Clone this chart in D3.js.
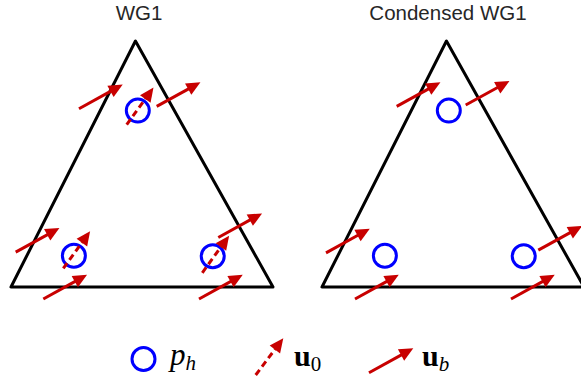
<!DOCTYPE html>
<html>
<head>
<meta charset="utf-8">
<script src="https://cdn.jsdelivr.net/npm/d3@7"></script>
<style>
  html, body { margin: 0; padding: 0; background: #fff; }
  svg { display: block; }
</style>
</head>
<body>
<script>
// ---- Reference element and degrees of freedom (unit-triangle coordinates) ----
const panelTitles = ["WG1", "Condensed WG1"];
const triangleVertices = [[0, 0], [1, 0], [0.475, 1]];

// pressure nodes p_h (same for both elements)
const pressureNodes = [[0.484, 0.717], [0.240, 0.127], [0.770, 0.125]];

// common arrow directions (unit-triangle units)
const boundaryVec = [0.167, 0.098];   // u_b
const interiorVec = [0.1023, 0.1506]; // u_0

// tails of the boundary velocity arrows, WG1
const wg1BoundaryTails = [
  [0.2595, 0.7247], [0.5561, 0.7340],
  [0.0179, 0.1417], [0.7912, 0.2012],
  [0.1233, -0.0486], [0.7176, -0.0486]
];
// tails of the interior velocity arrows, WG1
const wg1InteriorTails = [[0.4416, 0.6599], [0.1996, 0.0757], [0.7302, 0.0579]];

// tails of the boundary velocity arrows, condensed WG1 (no interior DOFs)
const condensedBoundaryTails = [
  [0.2851, 0.7340], [0.5485, 0.7397],
  [0.0153, 0.1389], [0.8256, 0.1498],
  [0.1260, -0.0486], [0.7214, -0.0486]
];
const condensedInteriorTails = [];

const boundaryTails = [wg1BoundaryTails, condensedBoundaryTails];
const interiorTails = [wg1InteriorTails, condensedInteriorTails];

// ---- Drawing ----
const W = 581, H = 383;
const RED = "#c80000", BLUE = "#0000ff";
const svg = d3.select("body").append("svg").attr("width", W).attr("height", H);

const panelRanges = [[11, 273], [322, 584]];
const titleX = [139, 448];
const yScale = d3.scaleLinear().domain([0, 1]).range([287, 41]);

function drawArrow(g, x0, y0, x1, y1, dashed) {
  const dx = x1 - x0, dy = y1 - y0;
  const L = Math.hypot(dx, dy);
  const ux = dx / L, uy = dy / L;
  const headLen = 14, headHalf = 6.5;
  const bx = x1 - ux * headLen, by = y1 - uy * headLen;
  g.append("line")
    .attr("x1", x0).attr("y1", y0)
    .attr("x2", bx + ux * 2).attr("y2", by + uy * 2)
    .attr("stroke", RED).attr("stroke-width", 3)
    .attr("stroke-dasharray", dashed ? "6.5,4" : null);
  g.append("path")
    .attr("d", d3.line()([
      [x1, y1],
      [bx - uy * headHalf, by + ux * headHalf],
      [bx + uy * headHalf, by - ux * headHalf]
    ]) + "Z")
    .attr("fill", RED);
}

panelTitles.forEach((title, i) => {
  const x = d3.scaleLinear().domain([0, 1]).range(panelRanges[i]);
  const g = svg.append("g");

  g.append("text")
    .attr("x", titleX[i]).attr("y", 20)
    .attr("text-anchor", "middle")
    .attr("font-family", "Liberation Sans, Arial, sans-serif")
    .attr("font-size", 20.5)
    .attr("fill", "#262626")
    .text(title);

  g.append("path")
    .attr("d", d3.line().x(d => x(d[0])).y(d => yScale(d[1]))(triangleVertices) + "Z")
    .attr("fill", "none").attr("stroke", "#000")
    .attr("stroke-width", 3).attr("stroke-linejoin", "round");

  g.selectAll("circle.p")
    .data(pressureNodes).join("circle")
    .attr("cx", d => x(d[0])).attr("cy", d => yScale(d[1]))
    .attr("r", 11.5)
    .attr("fill", "none").attr("stroke", BLUE).attr("stroke-width", 3);

  const arrows = g.append("g");
  boundaryTails[i].forEach(t => {
    drawArrow(arrows, x(t[0]), yScale(t[1]),
      x(t[0] + boundaryVec[0]), yScale(t[1] + boundaryVec[1]), false);
  });
  interiorTails[i].forEach(t => {
    drawArrow(arrows, x(t[0]), yScale(t[1]),
      x(t[0] + interiorVec[0]), yScale(t[1] + interiorVec[1]), true);
  });
});

// ---- Legend ----
const leg = svg.append("g");
leg.append("circle").attr("cx", 143.5).attr("cy", 359).attr("r", 11.5)
  .attr("fill", "none").attr("stroke", BLUE).attr("stroke-width", 3);

const mathFont = "Liberation Serif, Times New Roman, serif";
const t1 = leg.append("text").attr("x", 170).attr("y", 365)
  .attr("font-family", mathFont).attr("font-size", 31);
t1.append("tspan").attr("font-style", "italic").text("p");
t1.append("tspan").attr("font-style", "italic").attr("font-size", 21).attr("dy", 5).text("h");

drawArrow(leg, 255.7, 375, 283.3, 338.3, true);
const t2 = leg.append("text").attr("x", 294).attr("y", 366)
  .attr("font-family", mathFont).attr("font-size", 30);
t2.append("tspan").attr("font-weight", "bold").text("u");
t2.append("tspan").attr("font-size", 21).attr("dy", 5).text("0");

drawArrow(leg, 369, 372.7, 413.3, 348.3, false);
const t3 = leg.append("text").attr("x", 422).attr("y", 366)
  .attr("font-family", mathFont).attr("font-size", 30);
t3.append("tspan").attr("font-weight", "bold").text("u");
t3.append("tspan").attr("font-style", "italic").attr("font-size", 21).attr("dy", 5).text("b");
</script>
</body>
</html>
